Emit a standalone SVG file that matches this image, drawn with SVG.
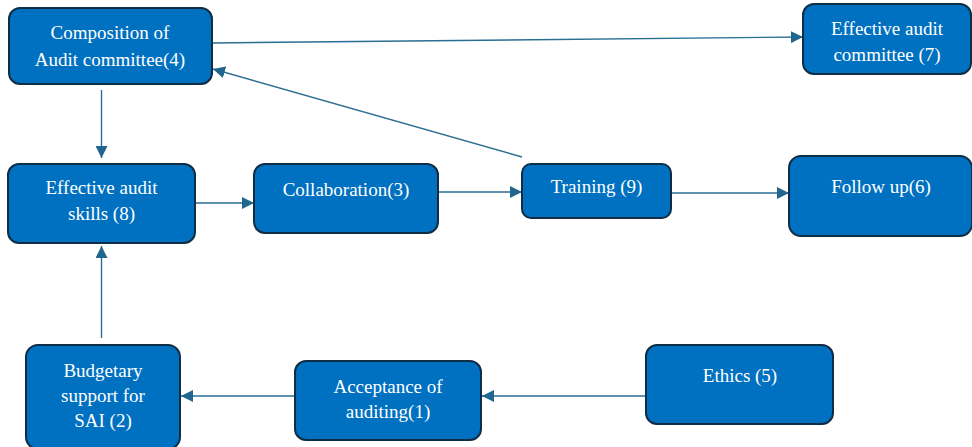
<svg xmlns="http://www.w3.org/2000/svg" width="972" height="447" viewBox="0 0 972 447">
<defs>
<marker id="arr" viewBox="0 0 12 12" refX="12" refY="6" markerWidth="12" markerHeight="12" markerUnits="userSpaceOnUse" orient="auto">
<path d="M0,0 L12,6 L0,12 Z" fill="#20668E"/>
</marker>
</defs>
<style>
.n rect{fill:#0070C0;stroke:#0F2D44;stroke-width:2}
.n text{fill:#FFFFFF;font-family:"Liberation Serif","Times New Roman",serif;font-size:19px;text-anchor:middle}
.c line{stroke:#2A6E93;stroke-width:1.4;fill:none;marker-end:url(#arr)}
</style>
<rect width="972" height="447" fill="#FFFFFF"/>
<g class="c" id="connectors">
<line x1="212" y1="43" x2="803" y2="37"/>
<line x1="101.5" y1="90" x2="101.5" y2="158"/>
<line x1="101.5" y1="338" x2="101.5" y2="246"/>
<line x1="195" y1="203" x2="254" y2="203"/>
<line x1="438" y1="192" x2="522" y2="192"/>
<line x1="671" y1="193" x2="789" y2="193"/>
<line x1="522" y1="157" x2="213" y2="69"/>
<line x1="295" y1="396" x2="181" y2="396"/>
<line x1="646" y1="396" x2="482" y2="396"/>
</g>
<g class="n" id="node4">
<rect x="9" y="8" width="203" height="76" rx="11"/>
<text x="110" y="39">Composition of</text>
<text x="110" y="66">Audit committee(4)</text>
</g>
<g class="n" id="node7">
<rect x="803" y="4" width="168" height="70" rx="11"/>
<text x="887" y="35">Effective audit</text>
<text x="887" y="61">committee (7)</text>
</g>
<g class="n" id="node8">
<rect x="8" y="164" width="187" height="79" rx="11"/>
<text x="101.5" y="194">Effective audit</text>
<text x="101.5" y="220">skills (8)</text>
</g>
<g class="n" id="node3">
<rect x="254" y="164" width="184" height="69" rx="11"/>
<text x="346" y="196">Collaboration(3)</text>
</g>
<g class="n" id="node9">
<rect x="522" y="164" width="149" height="54" rx="9"/>
<text x="596.5" y="193">Training (9)</text>
</g>
<g class="n" id="node6">
<rect x="789" y="156" width="183" height="80" rx="12"/>
<text x="881" y="193">Follow up(6)</text>
</g>
<g class="n" id="node2">
<rect x="26" y="345" width="154" height="104" rx="12"/>
<text x="103" y="377">Budgetary</text>
<text x="103" y="402">support for</text>
<text x="103" y="427">SAI (2)</text>
</g>
<g class="n" id="node1">
<rect x="295" y="361" width="186" height="79" rx="11"/>
<text x="388" y="393">Acceptance of</text>
<text x="388" y="418">auditing(1)</text>
</g>
<g class="n" id="node5">
<rect x="646" y="345" width="187" height="79" rx="11"/>
<text x="740" y="382">Ethics (5)</text>
</g>
</svg>
